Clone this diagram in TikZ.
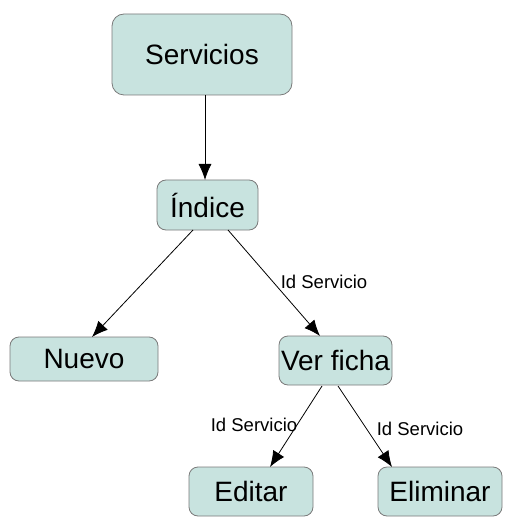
\documentclass[tikz,border=0pt]{standalone}
\usepackage{fontspec}
\setmainfont{Liberation Sans}
\usetikzlibrary{arrows.meta}
\definecolor{boxfill}{HTML}{C8E3DF}
\definecolor{boxline}{HTML}{7A7A7A}
\tikzset{
  box/.style={draw=boxline, fill=boxfill, line width=0.8pt, rounded corners=9pt, font=\fontsize{28}{32}\selectfont, inner sep=0pt, minimum height=#1},
  box/.default=49pt,
  conn/.style={-{Latex[length=16pt,width=13pt]}, line width=0.8pt, black},
  lbl/.style={font=\fontsize{18.5}{22}\selectfont, inner sep=0pt}
}
\begin{document}
\begin{tikzpicture}[x=1pt,y=-1pt]
\useasboundingbox (0,0) rectangle (517,526);
\node[box=81pt, minimum width=180pt, rounded corners=12pt] (serv) at (202,54.5) {Servicios};
\node[box=50pt, minimum width=101pt] (ind) at (207.5,205) {Índice};
\node[box=44pt, minimum width=148pt] (nue) at (84,359) {Nuevo};
\node[box=49pt, minimum width=113pt] (ver) at (335.5,360.5) {Ver ficha};
\node[box=49pt, minimum width=124pt] (edi) at (251,491.5) {Editar};
\node[box=49pt, minimum width=124pt] (eli) at (440,491.5) {Eliminar};
\coordinate (s1) at (205,95);
\coordinate (i0) at (205,180);
\coordinate (i1) at (193,230);
\coordinate (n0) at (92,337);
\coordinate (i2) at (228,230);
\coordinate (v0) at (320,336);
\coordinate (v1) at (322,386);
\coordinate (e0) at (270,467);
\coordinate (v2) at (338,386);
\coordinate (l0) at (392,467);
\draw[conn] (s1) -- (i0);
\draw[conn] (i1) -- (n0);
\draw[conn] (i2) -- (v0);
\draw[conn] (v1) -- (e0);
\draw[conn] (v2) -- (l0);
\node[lbl] (la) at (324,282) {Id Servicio};
\node[lbl] (lb) at (254,425) {Id Servicio};
\node[lbl] (lc) at (420,429) {Id Servicio};
\end{tikzpicture}
\end{document}
